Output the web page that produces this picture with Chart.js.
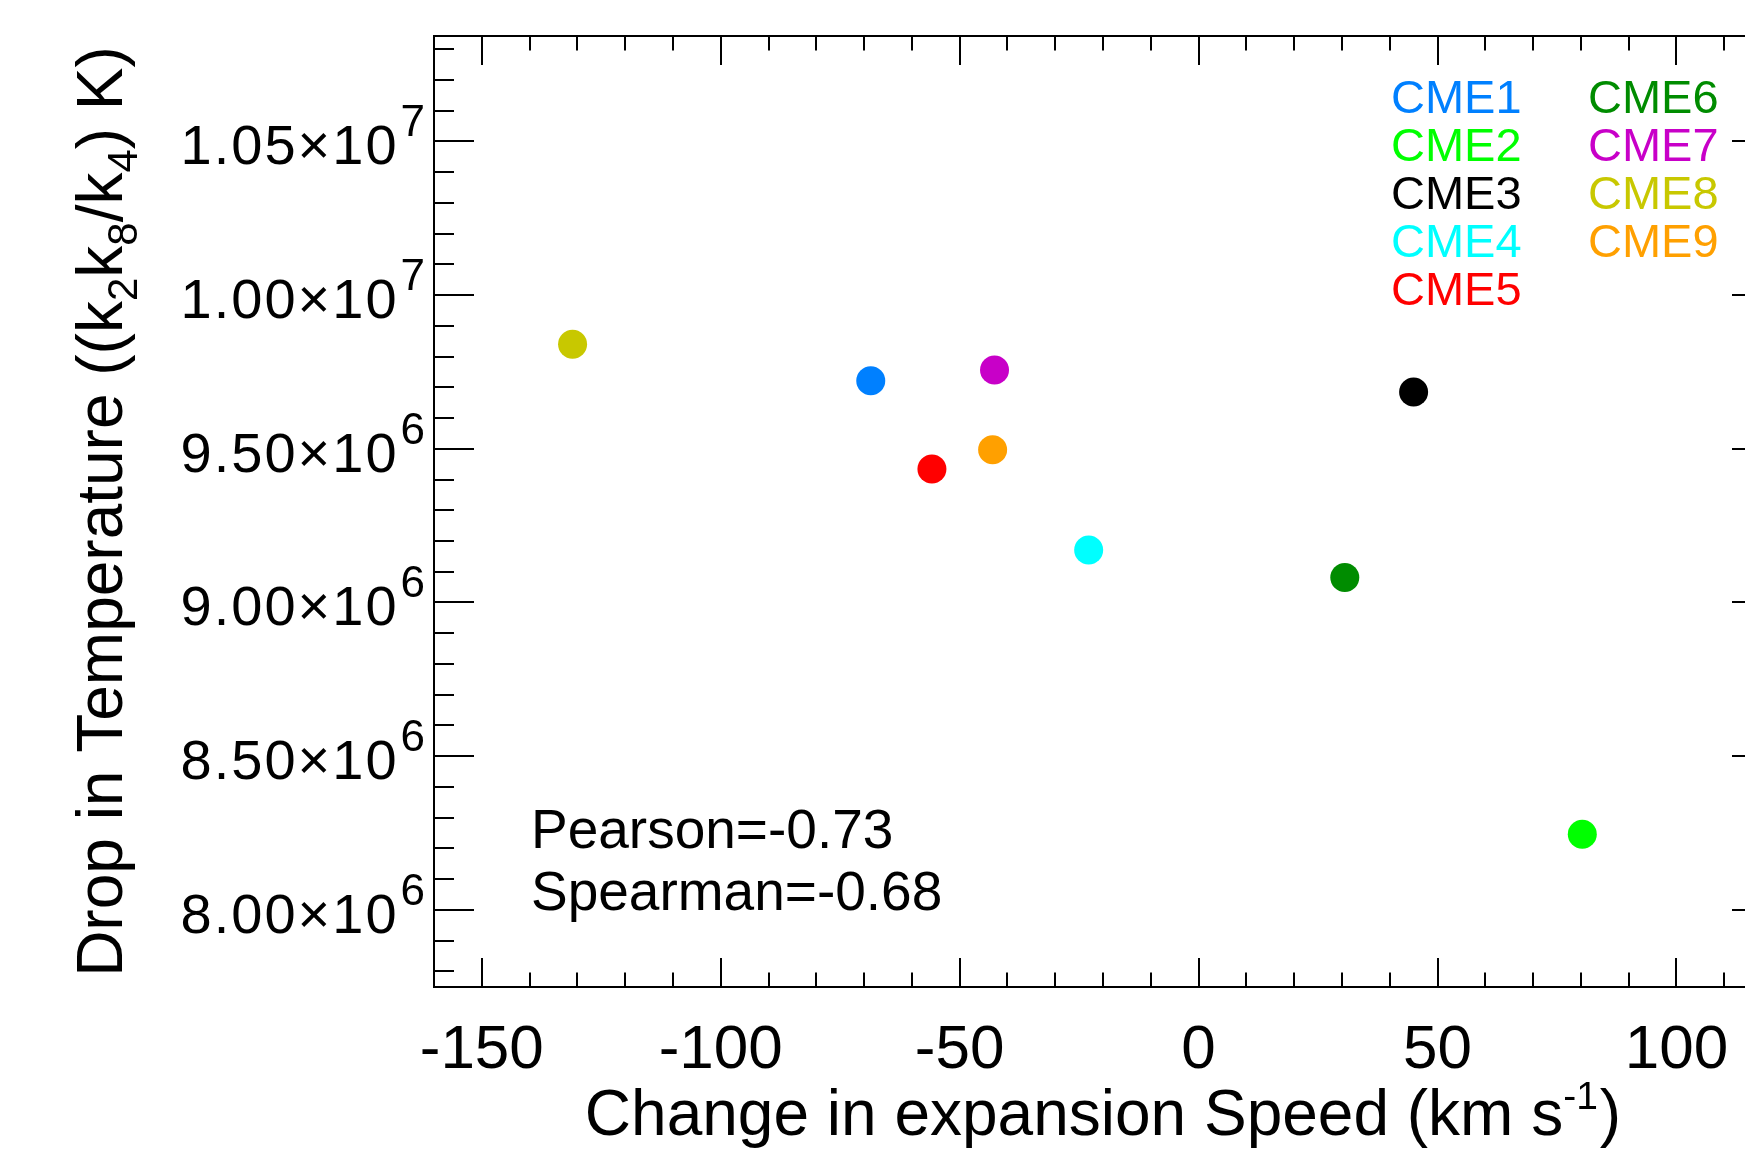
<!DOCTYPE html>
<html><head><meta charset="utf-8">
<script src="https://cdn.jsdelivr.net/npm/chart.js@4/dist/chart.umd.min.js"></script>
<style>
html,body{margin:0;padding:0;background:#fff;overflow:hidden;width:1745px;height:1152px}
#wrap{position:absolute;left:0;top:0;width:1800px;height:1152px}
</style>
</head><body><div id="wrap"><canvas id="c" width="1800" height="1152"></canvas></div>
<script>
// ---- data ----
const names = ['CME1','CME2','CME3','CME4','CME5','CME6','CME7','CME8','CME9'];
const speedChange = [-68.6, 80.3, 45.0, -23.0, -55.8, 30.6, -42.7, -131.0, -43.1];
const tempDrop = [9.721e6, 8.246e6, 9.685e6, 9.171e6, 9.4345e6, 9.081e6, 9.756e6, 9.8405e6, 9.497e6];
const colors = ['#0080ff','#00ff00','#000000','#00ffff','#ff0000','#008c00','#c800c8','#c8c800','#ffa000'];
const xRange = [-160, 120];
const yRange = [7.749e6, 1.0843e7];
const xMajorTicks = [-150, -100, -50, 0, 50, 100];
const xTickLabels = ['-150', '-100', '-50', '0', '50', '100'];
const xMinorStep = 10;
const yMajorTicks = [8.0e6, 8.5e6, 9.0e6, 9.5e6, 1.0e7, 1.05e7];
const yTickMantissa = ['8.00', '8.50', '9.00', '9.50', '1.00', '1.05'];
const yTickExponent = ['6', '6', '6', '6', '7', '7'];
const yMinorStep = 1e5;
const statsText = ['Pearson=-0.73', 'Spearman=-0.68'];

const FONT = '"Liberation Sans", Arial, Helvetica, sans-serif';

function drawRich(ctx, segs, x, y, align) {
  let total = 0;
  const ws = segs.map(s => {
    ctx.font = s.size + 'px ' + FONT;
    const w = ctx.measureText(s.t).width + (s.gap || 0);
    total += w;
    return w;
  });
  let cx = align === 'center' ? x - total / 2 : (align === 'right' ? x - total : x);
  ctx.textAlign = 'left';
  ctx.textBaseline = 'alphabetic';
  segs.forEach((s, i) => {
    ctx.font = s.size + 'px ' + FONT;
    ctx.fillText(s.t, cx + (s.gap || 0), y + (s.dy || 0));
    cx += ws[i];
  });
}

const idlAxes = {
  id: 'idlAxes',
  afterDraw(chart) {
    const ctx = chart.ctx;
    const xs = chart.scales.x, ys = chart.scales.y;
    const a = chart.chartArea;
    ctx.save();
    ctx.strokeStyle = '#000';
    ctx.fillStyle = '#000';
    ctx.lineWidth = 2;
    ctx.lineCap = 'butt';
    ctx.strokeRect(a.left, a.top, a.right - a.left, a.bottom - a.top);
    ctx.beginPath();
    // x ticks (bottom and top)
    for (let k = Math.ceil(xRange[0] / xMinorStep); k <= Math.floor(xRange[1] / xMinorStep); k++) {
      const v = k * xMinorStep;
      const px = Math.round(xs.getPixelForValue(v));
      const major = xMajorTicks.includes(v);
      const len = major ? 29 : 14.5;
      ctx.moveTo(px, a.bottom); ctx.lineTo(px, a.bottom - len);
      ctx.moveTo(px, a.top); ctx.lineTo(px, a.top + len);
    }
    // y ticks (left and right)
    for (let k = Math.ceil(yRange[0] / yMinorStep); k <= Math.floor(yRange[1] / yMinorStep); k++) {
      const v = k * yMinorStep;
      const py = Math.round(ys.getPixelForValue(v));
      const major = yMajorTicks.some(t => Math.abs(t - v) < 1);
      const len = major ? 40 : 20;
      ctx.moveTo(a.left, py); ctx.lineTo(a.left + len, py);
      ctx.moveTo(a.right, py); ctx.lineTo(a.right - len, py);
    }
    ctx.stroke();

    // x tick labels
    xMajorTicks.forEach((v, i) => {
      drawRich(ctx, [{t: xTickLabels[i], size: 62}], xs.getPixelForValue(v), 1068, 'center');
    });
    // y tick labels
    ctx.letterSpacing = '2px';
    yMajorTicks.forEach((v, i) => {
      const py = ys.getPixelForValue(v);
      drawRich(ctx, [
        {t: yTickMantissa[i] + '\u00d710', size: 56},
        {t: yTickExponent[i], size: 44, dy: -28, gap: 2}
      ], 427, py + 23, 'right');
    });
    ctx.letterSpacing = '0px';

    // x title
    drawRich(ctx, [
      {t: 'Change in expansion Speed (km s', size: 64},
      {t: '-1', size: 39, dy: -26},
      {t: ')', size: 64, gap: 2}
    ], (a.left + a.right) / 2, 1135, 'center');

    // y title
    ctx.save();
    ctx.translate(122, (a.top + a.bottom) / 2);
    ctx.rotate(-Math.PI / 2);
    drawRich(ctx, [
      {t: 'Drop in Temperature ((k', size: 64},
      {t: '2', size: 42, dy: 15},
      {t: 'k', size: 64},
      {t: '8', size: 42, dy: 15},
      {t: '/k', size: 64},
      {t: '4', size: 42, dy: 15},
      {t: ') K)', size: 64}
    ], 0, 0, 'center');
    ctx.restore();

    // legend (two columns)
    names.forEach((n, i) => {
      const col = i < 5 ? 0 : 1;
      const row = i < 5 ? i : i - 5;
      ctx.fillStyle = colors[i];
      drawRich(ctx, [{t: n, size: 47}], col === 0 ? 1391 : 1588, 113 + row * 48, 'left');
    });

    // stats
    ctx.fillStyle = '#000';
    statsText.forEach((s, i) => {
      drawRich(ctx, [{t: s, size: 55}], 531, 848 + i * 62, 'left');
    });
    ctx.restore();
  }
};

new Chart(document.getElementById('c'), {
  type: 'scatter',
  data: {
    datasets: [{
      data: speedChange.map((x, i) => ({x: x, y: tempDrop[i]})),
      backgroundColor: colors,
      borderWidth: 0,
      pointRadius: 14.5,
      pointHoverRadius: 14.5
    }]
  },
  options: {
    responsive: false,
    animation: false,
    devicePixelRatio: 1,
    events: [],
    layout: {padding: {left: 434, top: 36, right: 28, bottom: 165}},
    plugins: {legend: {display: false}, tooltip: {enabled: false}},
    scales: {
      x: {type: 'linear', display: false, min: xRange[0], max: xRange[1]},
      y: {type: 'linear', display: false, min: yRange[0], max: yRange[1]}
    }
  },
  plugins: [idlAxes]
});
</script>
</body></html>
